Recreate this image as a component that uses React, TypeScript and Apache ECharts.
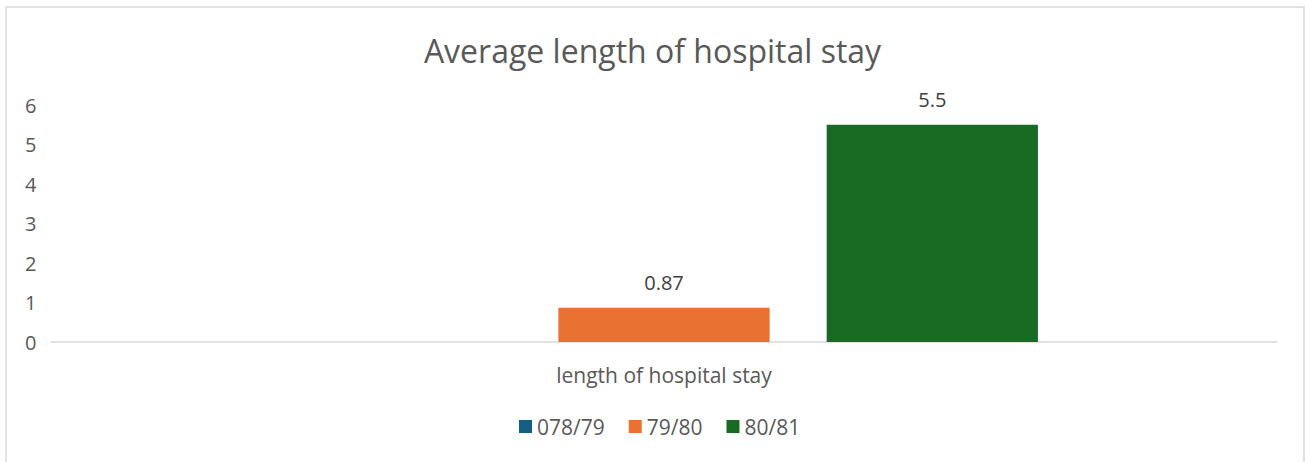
import React, { useEffect, useRef } from "react";
import * as echarts from "echarts";

const categories = ["length of hospital stay"];
const seriesNames = ["078/79", "79/80", "80/81"];
const values078_79 = [0];
const values79_80 = [0.87];
const values80_81 = [5.5];
const colors = ["#156082", "#E97132", "#196B24"];
const yTicks = { min: 0, max: 6, interval: 1 };

export default function App() {
  const ref = useRef<HTMLDivElement>(null);
  useEffect(() => {
    const chart = echarts.init(ref.current!, null, { renderer: "svg" });
    const font = "Open Sans";
    const data = [values078_79, values79_80, values80_81];
    chart.setOption({
      animation: false,
      backgroundColor: "#ffffff",
      title: {
        text: "Average length of hospital stay",
        left: "center",
        top: 29,
        textStyle: { fontFamily: font, fontSize: 32, fontWeight: "normal", color: "#595959" },
      },
      graphic: [
        {
          type: "rect",
          shape: { x: 6, y: 7, width: 1298, height: 470 },
          style: { fill: "none", stroke: "#d9d9d9", lineWidth: 1.5 },
          silent: true,
        },
      ],
      legend: {
        bottom: 20,
        left: 514,
        itemWidth: 13,
        itemHeight: 13,
        itemGap: 24,
        icon: "rect",
        textStyle: { fontFamily: font, fontSize: 21, color: "#595959", padding: [0, 0, 0, 0] },
        data: seriesNames,
      },
      grid: { left: 51, right: 28, top: 105, bottom: 120 },
      xAxis: {
        type: "category",
        data: categories,
        axisLine: { lineStyle: { color: "#d9d9d9", width: 1.5 } },
        axisTick: { show: false },
        axisLabel: { fontFamily: font, fontSize: 21, color: "#595959", margin: 22 },
      },
      yAxis: {
        type: "value",
        min: yTicks.min,
        max: yTicks.max,
        interval: yTicks.interval,
        axisLine: { show: false },
        axisTick: { show: false },
        splitLine: { show: false },
        axisLabel: {
          fontFamily: font,
          fontSize: 20,
          color: "#595959",
          align: "left",
          margin: 26,
        },
      },
      series: seriesNames.map((name, i) => ({
        name,
        type: "bar",
        data: data[i],
        itemStyle: { color: colors[i] },
        barGap: "27%",
        barCategoryGap: "39%",
        label: {
          show: i !== 0,
          position: "top",
          distance: 15,
          fontFamily: font,
          fontSize: 20,
          color: "#404040",
        },
      })),
    });
    return () => chart.dispose();
  }, []);
  return (
    <div
      ref={ref}
      style={{ position: "fixed", left: 0, top: 0, width: 1305, height: 462 }}
    />
  );
}
